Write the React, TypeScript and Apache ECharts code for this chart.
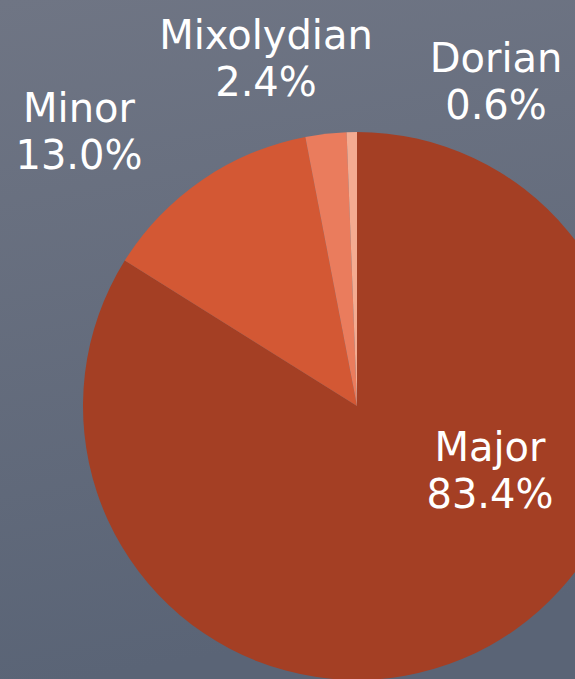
import React, { useEffect, useRef } from "react";
import * as echarts from "echarts";

const categories = ["Major", "Minor", "Mixolydian", "Dorian"];
const shares = [83.4, 13.0, 2.4, 0.6];
const sliceColors = ["#A43F24", "#D35834", "#EA7C5D", "#F4AB91"];

// label anchor positions (pixels) for each category, in the same order
const labelSpots: [number, number][] = [
  [490, 470],
  [79, 131],
  [266, 58],
  [496, 81],
];

export default function App() {
  const ref = useRef<HTMLDivElement>(null);
  useEffect(() => {
    document.body.style.margin = "0";
    if (!ref.current) return;
    const chart = echarts.init(ref.current, null, { renderer: "svg" });
    chart.setOption({
      animation: false,
      backgroundColor: {
        type: "linear",
        x: 0,
        y: 0,
        x2: 0.15,
        y2: 1,
        colorStops: [
          { offset: 0, color: "#6F7584" },
          { offset: 1, color: "#5A6476" },
        ],
      },
      series: [
        {
          type: "pie",
          center: [357, 406],
          radius: 274,
          startAngle: 90,
          clockwise: true,
          silent: true,
          data: categories.map((name, i) => ({
            name,
            value: shares[i],
            itemStyle: { color: sliceColors[i] },
          })),
          label: {
            show: true,
            position: "outside",
            color: "#FFFFFF",
            fontFamily: "DejaVu Sans",
            fontSize: 40,
            lineHeight: 47,
            align: "center",
            overflow: "none",
            formatter: (p: any) => `${p.name}\n${p.value.toFixed(1)}%`,
          },
          labelLine: { show: false },
          labelLayout: (p: any) => {
            const spot = labelSpots[p.dataIndex];
            return {
              x: spot[0],
              y: spot[1],
              align: "center",
              verticalAlign: "middle",
              hideOverlap: false,
            };
          },
        },
      ],
    });
    return () => chart.dispose();
  }, []);
  return <div ref={ref} style={{ width: 575, height: 679 }} />;
}
